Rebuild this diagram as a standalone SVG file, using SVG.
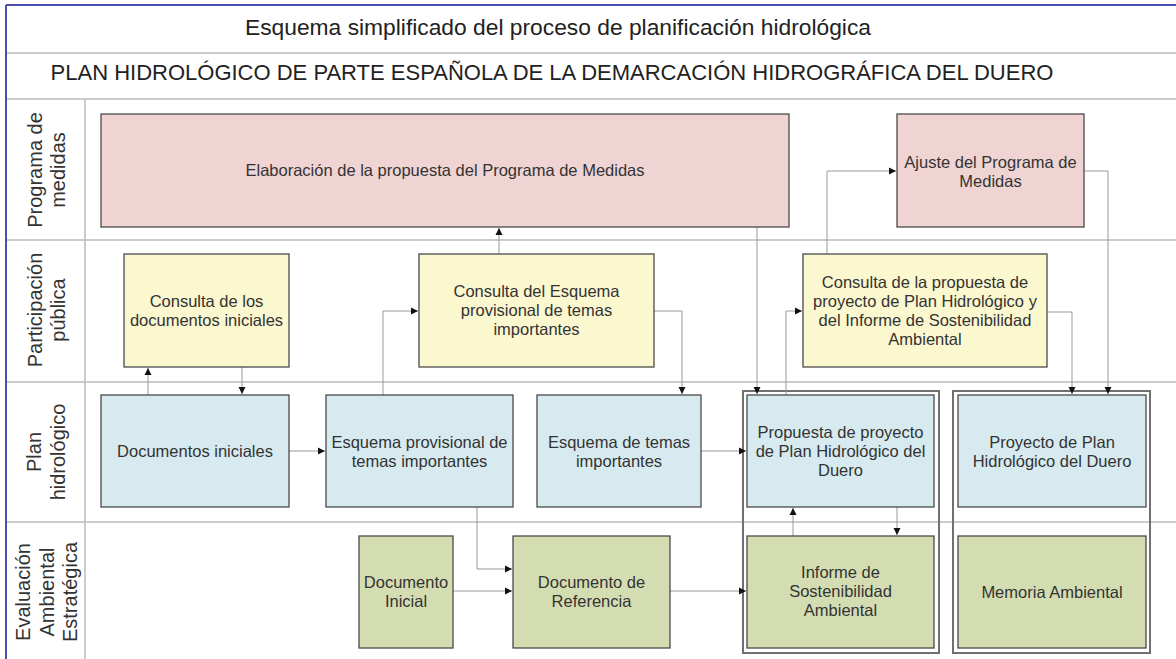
<svg xmlns="http://www.w3.org/2000/svg" width="1176" height="659" viewBox="0 0 1176 659">
<defs>
<marker id="arr" markerWidth="8" markerHeight="8" refX="7" refY="4" orient="auto" markerUnits="userSpaceOnUse">
<path d="M0,0.5 L7,4 L0,7.5 Z" fill="#111"/>
</marker>
<style>
text{font-family:"Liberation Sans",Arial,sans-serif;fill:#333;}
.t{font-size:16.5px;text-anchor:middle;}
.lane{font-size:20px;text-anchor:middle;}
.h{font-size:22.8px;text-anchor:middle;fill:#222;}
.h2{font-size:22px;text-anchor:middle;fill:#222;}
.sep{stroke:#bbb;stroke-width:1.5;fill:none;}
.pink{fill:#efd4d3;stroke:#4a4a4a;stroke-width:1.3;}
.yel{fill:#fbf7cf;stroke:#4a4a4a;stroke-width:1.3;}
.blue{fill:#d7eaf0;stroke:#4a4a4a;stroke-width:1.3;}
.green{fill:#d4ddb2;stroke:#4a4a4a;stroke-width:1.3;}
.frame{fill:none;stroke:#707070;stroke-width:2;}
.c{fill:none;stroke:#999;stroke-width:1;marker-end:url(#arr);}
</style>
</defs>
<rect x="0" y="0" width="1176" height="659" fill="#fff"/>
<g id="grid">
<line class="sep" x1="6" y1="53" x2="1176" y2="53"/>
<line class="sep" x1="6" y1="99" x2="1176" y2="99"/>
<line class="sep" x1="6" y1="240" x2="1176" y2="240"/>
<line class="sep" x1="6" y1="382" x2="1176" y2="382"/>
<line class="sep" x1="6" y1="522" x2="1176" y2="522"/>
<line class="sep" x1="85" y1="99" x2="85" y2="659"/>
<line x1="6" y1="5" x2="1176" y2="5" stroke="#4a4fb0" stroke-width="2"/>
<line x1="6" y1="5" x2="6" y2="659" stroke="#4a4fb0" stroke-width="2"/>
</g>
<g id="titles">
<text class="h" x="558" y="35">Esquema simplificado del proceso de planificación hidrológica</text>
<text class="h2" x="552" y="80">PLAN HIDROLÓGICO DE PARTE ESPAÑOLA DE LA DEMARCACIÓN HIDROGRÁFICA DEL DUERO</text>
</g>
<g id="lane-labels">
<text class="lane" transform="translate(42,170) rotate(-90)">Programa de</text>
<text class="lane" transform="translate(65,170) rotate(-90)">medidas</text>
<text class="lane" transform="translate(42,310) rotate(-90)">Participación</text>
<text class="lane" transform="translate(65,310) rotate(-90)">pública</text>
<text class="lane" transform="translate(41,452) rotate(-90)">Plan</text>
<text class="lane" transform="translate(65,452) rotate(-90)">hidrológico</text>
<text class="lane" transform="translate(30,592) rotate(-90)">Evaluación</text>
<text class="lane" transform="translate(54,592) rotate(-90)">Ambiental</text>
<text class="lane" transform="translate(77,592) rotate(-90)">Estratégica</text>
</g>
<g id="frames">
<rect class="frame" x="743" y="391" width="196" height="262"/>
<rect class="frame" x="953" y="391" width="197" height="262"/>
</g>
<g id="connectors">
<path class="c" d="M148,395 V368"/>
<path class="c" d="M242,367 V394"/>
<path class="c" d="M289,451 H325"/>
<path class="c" d="M383,395 V311 H418"/>
<path class="c" d="M499,254 V228"/>
<path class="c" d="M654,311 H682 V394"/>
<path class="c" d="M757,227 V394"/>
<path class="c" d="M701,451 H746"/>
<path class="c" d="M786,395 V311 H802"/>
<path class="c" d="M827,254 V171 H896"/>
<path class="c" d="M1084,171 H1108 V394"/>
<path class="c" d="M1047,312 H1072 V394"/>
<path class="c" d="M793,536 V508"/>
<path class="c" d="M897,507 V535"/>
<path class="c" d="M477,507 V569 H512"/>
<path class="c" d="M453,591 H512"/>
<path class="c" d="M670,591 H746"/>
</g>
<g id="n-elaboracion"><rect class="pink" x="101" y="114" width="688" height="113"/><text class="t" x="445" y="176">Elaboración de la propuesta del Programa de Medidas</text></g>
<g id="n-ajuste"><rect class="pink" x="897" y="114" width="187" height="113"/><text class="t" x="990.5" y="168">Ajuste del Programa de</text><text class="t" x="990.5" y="187">Medidas</text></g>
<g id="n-consulta-docs"><rect class="yel" x="124" y="254" width="165" height="113"/><text class="t" x="206.5" y="307">Consulta de los</text><text class="t" x="206.5" y="326">documentos iniciales</text></g>
<g id="n-consulta-esquema"><rect class="yel" x="419" y="254" width="235" height="113"/><text class="t" x="536.5" y="297">Consulta del Esquema</text><text class="t" x="536.5" y="316">provisional de temas</text><text class="t" x="536.5" y="335">importantes</text></g>
<g id="n-consulta-propuesta"><rect class="yel" x="803" y="254" width="244" height="113"/><text class="t" x="925" y="288">Consulta de la propuesta de</text><text class="t" x="925" y="307">proyecto de Plan Hidrológico y</text><text class="t" x="925" y="326">del Informe de Sostenibilidad</text><text class="t" x="925" y="345">Ambiental</text></g>
<g id="n-documentos-iniciales"><rect class="blue" x="101" y="395" width="188" height="112"/><text class="t" x="195" y="457">Documentos iniciales</text></g>
<g id="n-esquema-provisional"><rect class="blue" x="326" y="395" width="187" height="112"/><text class="t" x="419.5" y="448">Esquema provisional de</text><text class="t" x="419.5" y="467">temas importantes</text></g>
<g id="n-esquema-temas"><rect class="blue" x="537" y="395" width="164" height="112"/><text class="t" x="619" y="448">Esquema de temas</text><text class="t" x="619" y="467">importantes</text></g>
<g id="n-propuesta"><rect class="blue" x="747" y="395" width="187" height="112"/><text class="t" x="840.5" y="438">Propuesta de proyecto</text><text class="t" x="840.5" y="457">de Plan Hidrológico del</text><text class="t" x="840.5" y="476">Duero</text></g>
<g id="n-proyecto"><rect class="blue" x="958" y="395" width="188" height="112"/><text class="t" x="1052" y="448">Proyecto de Plan</text><text class="t" x="1052" y="467">Hidrológico del Duero</text></g>
<g id="n-documento-inicial"><rect class="green" x="359" y="536" width="94" height="112"/><text class="t" x="406" y="588">Documento</text><text class="t" x="406" y="607">Inicial</text></g>
<g id="n-documento-referencia"><rect class="green" x="513" y="536" width="157" height="112"/><text class="t" x="591.5" y="588">Documento de</text><text class="t" x="591.5" y="607">Referencia</text></g>
<g id="n-informe"><rect class="green" x="747" y="536" width="187" height="112"/><text class="t" x="840.5" y="578">Informe de</text><text class="t" x="840.5" y="597">Sostenibilidad</text><text class="t" x="840.5" y="616">Ambiental</text></g>
<g id="n-memoria"><rect class="green" x="958" y="536" width="188" height="112"/><text class="t" x="1052" y="598">Memoria Ambiental</text></g>
</svg>
